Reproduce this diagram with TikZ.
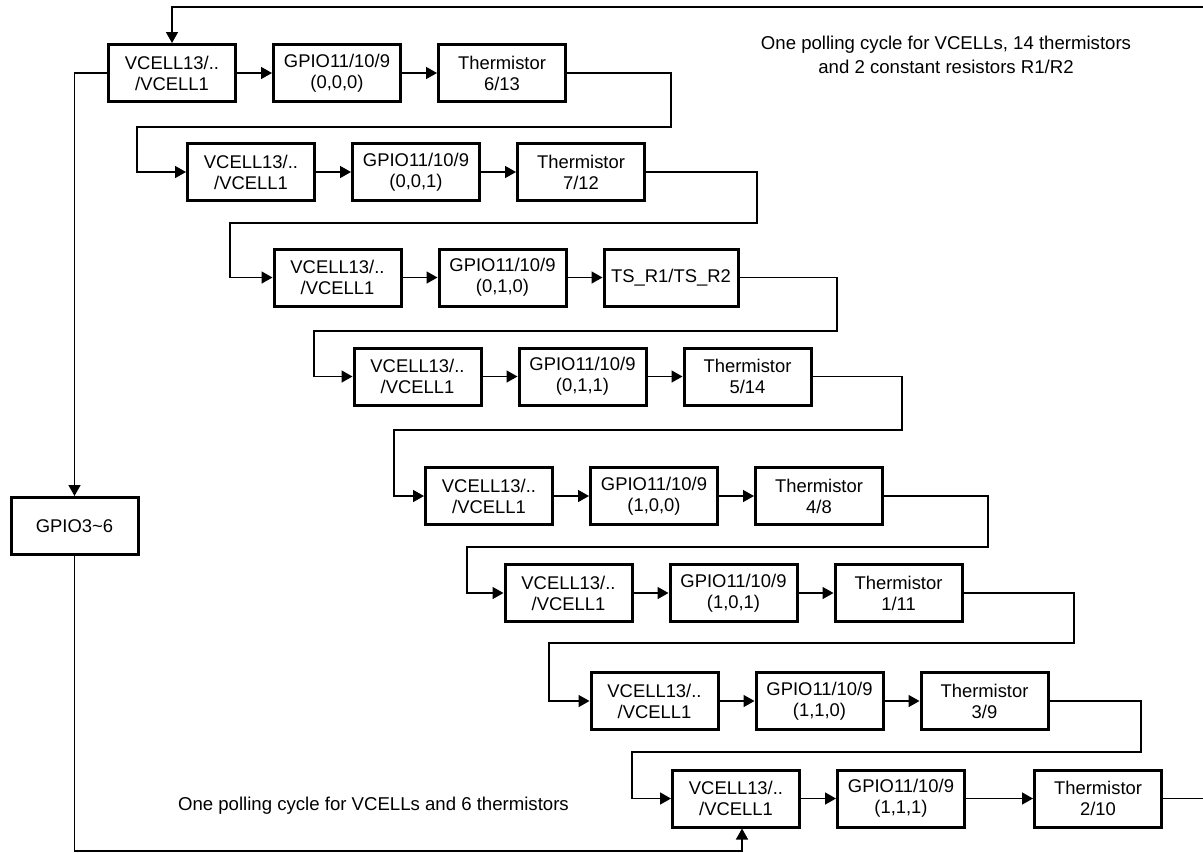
\documentclass[tikz,border=0pt]{standalone}
\usepackage{fontspec}
\setmainfont{Liberation Sans}
\usetikzlibrary{arrows.meta,positioning}

\begin{document}
\begin{tikzpicture}[x=0.5pt,y=-0.5pt,font=\fontsize{9.2}{10.5}\selectfont,node distance=17.5pt,
    blk/.style={draw,line width=1.5pt,minimum width=63.5pt,minimum height=28.5pt,align=center,inner sep=2pt},
    ln/.style={line width=0.75pt,-{Triangle[length=5.5pt,width=6pt]}},
    note/.style={font=\fontsize{9.3}{10}\selectfont,align=center}]
  \useasboundingbox (0,0) rectangle (1203,852);
  % polling rows
  \node[blk] (v1) at (172,73) {VCELL13/..\\/VCELL1};
  \node[blk,right=of v1] (g1) {GPIO11/10/9\\(0,0,0)};
  \node[blk,right=of g1] (t1) {Thermistor\\6/13};
  \node[blk] (v2) at (251,172) {VCELL13/..\\/VCELL1};
  \node[blk,right=of v2] (g2) {GPIO11/10/9\\(0,0,1)};
  \node[blk,right=of g2] (t2) {Thermistor\\7/12};
  \node[blk] (v3) at (337.5,277.5) {VCELL13/..\\/VCELL1};
  \node[blk,right=of v3] (g3) {GPIO11/10/9\\(0,1,0)};
  \node[blk,right=of g3,minimum width=67pt] (t3) {TS\_R1/TS\_R2};
  \node[blk] (v4) at (417.5,376.5) {VCELL13/..\\/VCELL1};
  \node[blk,right=of v4] (g4) {GPIO11/10/9\\(0,1,1)};
  \node[blk,right=of g4] (t4) {Thermistor\\5/14};
  \node[blk] (v5) at (489,496) {VCELL13/..\\/VCELL1};
  \node[blk,right=of v5] (g5) {GPIO11/10/9\\(1,0,0)};
  \node[blk,right=of g5] (t5) {Thermistor\\4/8};
  \node[blk] (v6) at (568.5,593) {VCELL13/..\\/VCELL1};
  \node[blk,right=of v6] (g6) {GPIO11/10/9\\(1,0,1)};
  \node[blk,right=of g6] (t6) {Thermistor\\1/11};
  \node[blk] (v7) at (654.5,701) {VCELL13/..\\/VCELL1};
  \node[blk,right=of v7] (g7) {GPIO11/10/9\\(1,1,0)};
  \node[blk,right=of g7] (t7) {Thermistor\\3/9};
  \node[blk] (v8) at (736,798.5) {VCELL13/..\\/VCELL1};
  \node[blk,right=of v8] (g8) {GPIO11/10/9\\(1,1,1)};
  \node[blk,right=33.5pt of g8] (t8) {Thermistor\\2/10};
  \node[blk] (gpio) at (74.5,526) {GPIO3\textasciitilde6};
  % notes
  \node[note] (note1) at (946,55) {One polling cycle for VCELLs, 14 thermistors\\[2pt]and 2 constant resistors R1/R2};
  \node[note,anchor=west] (note2) at (171,806) {One polling cycle for VCELLs and 6 thermistors};
  % wrap points
  \coordinate (w1r) at (671,127);  \coordinate (w1l) at (137,127);
  \coordinate (w2r) at (757,223);  \coordinate (w2l) at (230,223);
  \coordinate (w3r) at (837,331);  \coordinate (w3l) at (314,331);
  \coordinate (w4r) at (902,430);  \coordinate (w4l) at (394,430);
  \coordinate (w5r) at (988,547);  \coordinate (w5l) at (467,547);
  \coordinate (w6r) at (1074,643); \coordinate (w6l) at (549,643);
  \coordinate (w7r) at (1141,752); \coordinate (w7l) at (632,752);
  \coordinate (topr) at (1204,7);
  \coordinate (botl) at (74.5,851);
  % in-row arrows
  \draw[ln] (v1) -- (g1); \draw[ln] (g1) -- (t1);
  \draw[ln] (v2) -- (g2); \draw[ln] (g2) -- (t2);
  \draw[ln] (v3) -- (g3); \draw[ln] (g3) -- (t3);
  \draw[ln] (v4) -- (g4); \draw[ln] (g4) -- (t4);
  \draw[ln] (v5) -- (g5); \draw[ln] (g5) -- (t5);
  \draw[ln] (v6) -- (g6); \draw[ln] (g6) -- (t6);
  \draw[ln] (v7) -- (g7); \draw[ln] (g7) -- (t7);
  \draw[ln] (v8) -- (g8); \draw[ln] (g8) -- (t8);
  % row to row
  \draw[ln] (t1) -| (w1r) -- (w1l) |- (v2);
  \draw[ln] (t2) -| (w2r) -- (w2l) |- (v3);
  \draw[ln] (t3) -| (w3r) -- (w3l) |- (v4);
  \draw[ln] (t4) -| (w4r) -- (w4l) |- (v5);
  \draw[ln] (t5) -| (w5r) -- (w5l) |- (v6);
  \draw[ln] (t6) -| (w6r) -- (w6l) |- (v7);
  \draw[ln] (t7) -| (w7r) -- (w7l) |- (v8);
  % outer loops
  \draw[ln] (t8) -| (topr) -| (v1);
  \draw[ln] (v1) -| (gpio);
  \draw[ln] (gpio) -- (botl) -| ([xshift=3pt]v8.south);
\end{tikzpicture}
\end{document}
